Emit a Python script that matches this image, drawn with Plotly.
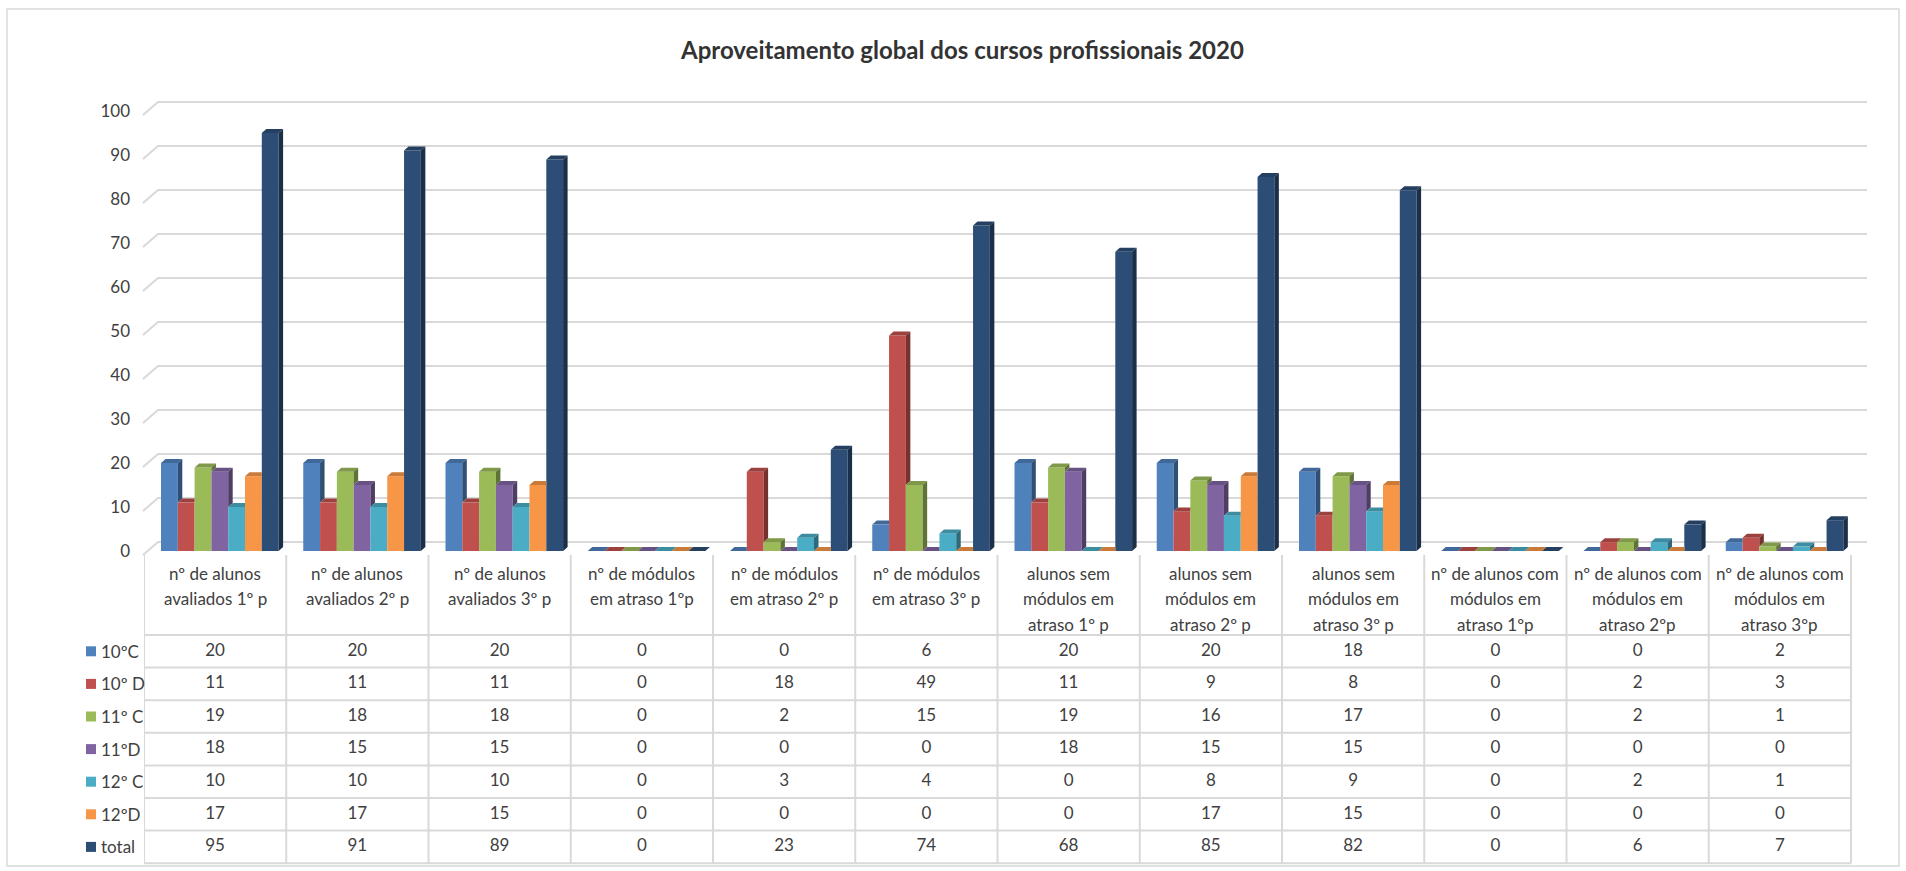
import plotly.graph_objects as go

# categories (x axis / table columns)
categories = [
    "nº de alunos<br>avaliados 1º p",
    "nº de alunos<br>avaliados 2º p",
    "nº de alunos<br>avaliados 3º p",
    "nº de módulos<br>em atraso 1ºp",
    "nº de módulos<br>em atraso 2º p",
    "nº de módulos<br>em atraso 3º p",
    "alunos sem<br>módulos em<br>atraso 1º p",
    "alunos sem<br>módulos em<br>atraso 2º p",
    "alunos sem<br>módulos em<br>atraso 3º p",
    "nº de alunos com<br>módulos em<br>atraso 1ºp",
    "nº de alunos com<br>módulos em<br>atraso 2ºp",
    "nº de alunos com<br>módulos em<br>atraso 3ºp",
]

series_names = ["10ºC", "10º D", "11º C", "11ºD", "12º C", "12ºD", "total"]
v_10C = [20, 20, 20, 0, 0, 6, 20, 20, 18, 0, 0, 2]
v_10D = [11, 11, 11, 0, 18, 49, 11, 9, 8, 0, 2, 3]
v_11C = [19, 18, 18, 0, 2, 15, 19, 16, 17, 0, 2, 1]
v_11D = [18, 15, 15, 0, 0, 0, 18, 15, 15, 0, 0, 0]
v_12C = [10, 10, 10, 0, 3, 4, 0, 8, 9, 0, 2, 1]
v_12D = [17, 17, 15, 0, 0, 0, 0, 17, 15, 0, 0, 0]
v_total = [95, 91, 89, 0, 23, 74, 68, 85, 82, 0, 6, 7]
series_values = [v_10C, v_10D, v_11C, v_11D, v_12C, v_12D, v_total]

colors = ["#4F81BD", "#C0504D", "#9BBB59", "#8064A2", "#4BACC6", "#F79646", "#2C4D75"]
y_ticks = list(range(0, 101, 10))

title = "Aproveitamento global dos cursos profissionais 2020"

# ---- layout geometry (pixels) ----
W, H = 1906, 871
X0 = 144          # left edge of first category column
CAT = 142.25      # category column width
Y0 = 551          # pixel of value 0 on bar front faces
SC = 4.4          # pixels per unit
FONT = "Lato, sans-serif"
FS = 17
TXT = "#404040"
GRID = "#d9d9d9"


def ux(p):
    return (p - X0) / CAT


def vy(p):
    return (Y0 - p) / SC


def px(p):
    return p / W


def py(p):
    return 1 - p / H


def shade(c, f):
    r, g, b = int(c[1:3], 16), int(c[3:5], 16), int(c[5:7], 16)
    return "rgb(%d,%d,%d)" % (r * f, g * f, b * f)


BW = 16.8 / CAT       # bar width
G0 = 17 / CAT         # offset of group in column
DDX = 4.5 / CAT       # bar depth (x)
DDY = 4 / SC          # bar depth (y)

fig = go.Figure()

n = len(series_values)
for j, (name, vals, col) in enumerate(zip(series_names, series_values, colors)):
    fig.add_trace(go.Bar(
        x=[i + 0.5 for i in range(len(categories))], y=vals, name=name,
        width=BW, offset=-0.5 + G0 + j * BW,
        marker=dict(color=col, line=dict(width=0)),
    ))

# 3d faces (top + side) for each bar, painter order left to right
for j, (vals, col) in enumerate(zip(series_values, colors)):
    tx, ty, sx, sy = [], [], [], []
    for i, v in enumerate(vals):
        xl = i + G0 + j * BW
        xr = xl + BW
        nv = series_values[j + 1][i] if j + 1 < n else None
        # top face
        poly = [(xl, v), (xl + DDX, v + DDY), (xr + DDX, v + DDY)]
        if nv is not None and nv > v:
            h = min(nv, v + DDY)
            xh = xr + (h - v) / DDY * DDX
            poly += [(xh, h), (xr, h)]
        poly += [(xr, v)]
        for p in poly + [poly[0]]:
            tx.append(p[0]); ty.append(p[1])
        tx.append(None); ty.append(None)
        # side face (only the part above the next bar)
        h0 = 0 if nv is None else max(nv, 0)
        if h0 < v:
            poly = [(xr, h0), (xr, v), (xr + DDX, v + DDY), (xr + DDX, h0 + DDY), (xr, h0)]
            for p in poly:
                sx.append(p[0]); sy.append(p[1])
            sx.append(None); sy.append(None)
    fig.add_trace(go.Scatter(x=tx, y=ty, mode="lines", fill="toself",
                             fillcolor=shade(col, 0.82), line=dict(width=0),
                             hoverinfo="skip", showlegend=False))
    if sx:
        fig.add_trace(go.Scatter(x=sx, y=sy, mode="lines", fill="toself",
                                 fillcolor=shade(col, 0.62), line=dict(width=0),
                                 hoverinfo="skip", showlegend=False))

shapes = []
# back wall gridlines with diagonal on the side wall
for t in y_ticks:
    yf = t + vy(555)      # front-left point
    yb = t + vy(542)      # back wall
    shapes.append(dict(
        type="path", xref="paper", yref="y", layer="below",
        path="M %f,%f L %f,%f L %f,%f" % (px(143), yf, px(158), yb, px(1867), yb),
        line=dict(color=GRID, width=2),
    ))

# data table grid
ROW_TOP = 635
ROW_H = 32.6
for k in range(len(series_names) + 1):
    yy = py(ROW_TOP + k * ROW_H)
    shapes.append(dict(type="line", xref="x", yref="paper", x0=ux(80), x1=len(categories),
                       y0=yy, y1=yy, line=dict(color=GRID, width=2)))
for k in range(len(categories) + 1):
    shapes.append(dict(type="line", xref="x", yref="paper", x0=k, x1=k,
                       y0=py(555), y1=py(ROW_TOP + len(series_names) * ROW_H),
                       line=dict(color=GRID, width=2)))
shapes.append(dict(type="line", xref="x", yref="paper", x0=ux(80), x1=ux(80),
                   y0=py(ROW_TOP), y1=py(ROW_TOP + len(series_names) * ROW_H),
                   line=dict(color=GRID, width=2)))
# chart border
shapes.append(dict(type="rect", xref="paper", yref="paper", x0=px(7), x1=px(1899),
                   y0=py(866), y1=py(9), line=dict(color=GRID, width=1.5)))

annotations = []
# table values and row headers (legend keys)
for r, (name, vals, col) in enumerate(zip(series_names, series_values, colors)):
    yc_px = ROW_TOP + (r + 0.5) * ROW_H
    fig.add_trace(go.Scatter(
        x=[i + 0.5 for i in range(len(categories))], y=[vy(yc_px)] * len(categories),
        mode="text", text=[str(v) for v in vals], cliponaxis=False,
        textfont=dict(family=FONT, size=FS, color=TXT),
        hoverinfo="skip", showlegend=False))
    shapes.append(dict(type="rect", xref="paper", yref="paper",
                       x0=px(86), x1=px(96), y0=py(yc_px + 5), y1=py(yc_px - 5),
                       fillcolor=col, line=dict(width=0)))
    annotations.append(dict(
        x=px(99), y=py(yc_px), xref="paper", yref="paper", text=name, showarrow=False,
        xanchor="left", yanchor="middle", font=dict(family=FONT, size=FS, color=TXT)))

# category labels, one annotation per line for Excel-like line spacing
for i, c in enumerate(categories):
    for k, line in enumerate(c.split("<br>")):
        annotations.append(dict(
            x=i + 0.5, y=py(573 + 25.5 * k), xref="x", yref="paper", text=line,
            showarrow=False, xanchor="center", yanchor="middle",
            font=dict(family=FONT, size=FS, color=TXT)))

annotations.append(dict(
    x=px(962), y=py(50), xref="paper", yref="paper", text="<b>%s</b>" % title,
    showarrow=False, xanchor="center", yanchor="middle",
    font=dict(family=FONT, size=24, color="#333333")))

fig.update_layout(
    width=W, height=H, autosize=False,
    margin=dict(l=0, r=0, t=0, b=0),
    paper_bgcolor="white", plot_bgcolor="rgba(0,0,0,0)",
    barmode="overlay", showlegend=False, hovermode=False,
    xaxis=dict(domain=[px(X0), 1], range=[0, ux(W)], visible=False),
    yaxis=dict(domain=[0, 1], range=[vy(H), vy(0)], tickvals=y_ticks,
               showgrid=False, zeroline=False, showline=False, ticks="",
               ticklabelstandoff=13,
               tickfont=dict(family=FONT, size=FS, color=TXT)),
    shapes=shapes, annotations=annotations,
)

fig.write_html("out.html", config={"displayModeBar": False},
               post_script="document.body.style.margin='0';document.body.style.overflow='hidden';")
